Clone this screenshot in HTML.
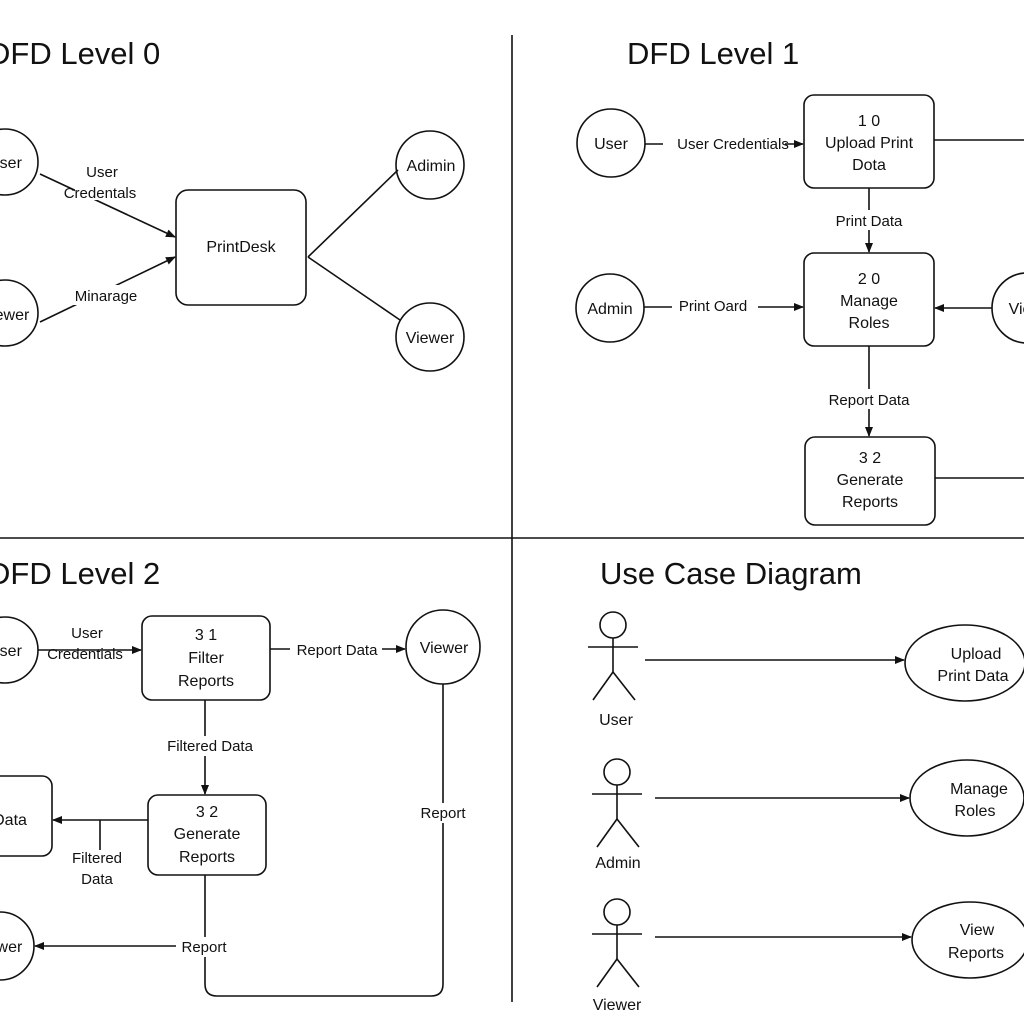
<!DOCTYPE html>
<html><head><meta charset="utf-8"><style>
html,body{margin:0;padding:0;background:#fff;}
svg{display:block;}
text{font-family:"Liberation Sans",sans-serif;fill:#111;}
.t{font-size:31px;}
.s{font-size:16px;text-anchor:middle;}
.l{font-size:15px;text-anchor:middle;}
</style></head><body>
<svg width="1024" height="1024" viewBox="0 0 1024 1024" xmlns="http://www.w3.org/2000/svg">
<defs><marker id="a" markerWidth="10" markerHeight="8" refX="9" refY="4" orient="auto" markerUnits="userSpaceOnUse"><path d="M0,0 L10,4 L0,8 z" fill="#111"/></marker></defs>
<g stroke="#111" stroke-width="1.6" fill="none">
<line x1="512" y1="35" x2="512" y2="1002"/>
<line x1="0" y1="538" x2="1024" y2="538"/>
<circle cx="5" cy="162" r="33"/><circle cx="5" cy="313" r="33"/>
<rect x="176" y="190" width="130" height="115" rx="12"/>
<circle cx="430" cy="165" r="34"/><circle cx="430" cy="337" r="34"/>
<line x1="40" y1="174" x2="175" y2="237" marker-end="url(#a)"/>
<line x1="40" y1="322" x2="175" y2="257" marker-end="url(#a)"/>
<line x1="308" y1="257" x2="398" y2="170"/><line x1="308" y1="257" x2="400" y2="320"/>
<circle cx="611" cy="143" r="34"/>
<line x1="645" y1="144" x2="803" y2="144" marker-end="url(#a)"/>
<rect x="804" y="95" width="130" height="93" rx="10"/>
<line x1="934" y1="140" x2="1024" y2="140"/>
<line x1="869" y1="188" x2="869" y2="252" marker-end="url(#a)"/>
<rect x="804" y="253" width="130" height="93" rx="10"/>
<circle cx="610" cy="308" r="34"/>
<line x1="644" y1="307" x2="803" y2="307" marker-end="url(#a)"/>
<circle cx="1027" cy="308" r="35"/>
<line x1="992" y1="308" x2="935" y2="308" marker-end="url(#a)"/>
<line x1="869" y1="346" x2="869" y2="436" marker-end="url(#a)"/>
<rect x="805" y="437" width="130" height="88" rx="10"/>
<line x1="935" y1="478" x2="1024" y2="478"/>
<circle cx="5" cy="650" r="33"/>
<line x1="38" y1="650" x2="141" y2="650" marker-end="url(#a)"/>
<rect x="142" y="616" width="128" height="84" rx="10"/>
<line x1="270" y1="649" x2="405" y2="649" marker-end="url(#a)"/>
<circle cx="443" cy="647" r="37"/>
<line x1="205" y1="700" x2="205" y2="794" marker-end="url(#a)"/>
<rect x="148" y="795" width="118" height="80" rx="10"/>
<rect x="-12" y="776" width="64" height="80" rx="10"/>
<line x1="148" y1="820" x2="53" y2="820" marker-end="url(#a)"/>
<line x1="100" y1="820" x2="100" y2="850"/>
<circle cx="0" cy="946" r="34"/>
<line x1="205" y1="946" x2="35" y2="946" marker-end="url(#a)"/>
<path d="M205,875 V984 Q205,996 217,996 H431 Q443,996 443,984 V684"/>
<g id="act">
<circle cx="613" cy="625" r="13"/><line x1="613" y1="638" x2="613" y2="672"/>
<line x1="588" y1="647" x2="638" y2="647"/>
<line x1="613" y1="672" x2="593" y2="700"/><line x1="613" y1="672" x2="635" y2="700"/>
</g>
<use href="#act" x="4" y="147"/><use href="#act" x="4" y="287"/>
<line x1="645" y1="660" x2="904" y2="660" marker-end="url(#a)"/>
<line x1="655" y1="798" x2="909" y2="798" marker-end="url(#a)"/>
<line x1="655" y1="937" x2="911" y2="937" marker-end="url(#a)"/>
<ellipse cx="965" cy="663" rx="60" ry="38"/>
<ellipse cx="967" cy="798" rx="57" ry="38"/>
<ellipse cx="970" cy="940" rx="58" ry="38"/>
</g>
<g fill="#fff">
<rect x="75" y="160" width="50" height="40"/><rect x="70" y="285" width="72" height="20"/>
<rect x="663" y="134" width="122" height="20"/><rect x="672" y="296" width="86" height="20"/>
<rect x="830" y="210" width="78" height="20"/><rect x="822" y="389" width="94" height="20"/>
<rect x="290" y="640" width="92" height="20"/><rect x="162" y="736" width="96" height="20"/>
<rect x="176" y="937" width="56" height="20"/><rect x="415" y="803" width="56" height="20"/>
</g>
<text class="t" x="-12" y="64">DFD Level 0</text>
<text class="t" x="627" y="64">DFD Level 1</text>
<text class="t" x="-12" y="584">DFD Level 2</text>
<text class="t" x="600" y="584">Use Case Diagram</text>
<text class="s" x="5" y="168">User</text><text class="s" x="5" y="320">Viewer</text>
<text class="s" x="241" y="252">PrintDesk</text>
<text class="s" x="431" y="171">Adimin</text><text class="s" x="430" y="343">Viewer</text>
<text class="l" x="102" y="177">User</text><text class="l" x="100" y="198">Credentals</text>
<text class="l" x="106" y="301">Minarage</text>
<text class="s" x="611" y="149">User</text>
<text class="l" x="733" y="149">User Credentials</text>
<text class="s" x="869" y="126">1 0</text><text class="s" x="869" y="148">Upload Print</text><text class="s" x="869" y="170">Dota</text>
<text class="l" x="869" y="226">Print Data</text>
<text class="s" x="869" y="284">2 0</text><text class="s" x="869" y="306">Manage</text><text class="s" x="869" y="328">Roles</text>
<text class="s" x="610" y="314">Admin</text><text class="l" x="713" y="311">Print Oard</text>
<text class="s" x="1020" y="314">Vie</text>
<text class="l" x="869" y="405">Report Data</text>
<text class="s" x="870" y="463">3 2</text><text class="s" x="870" y="485">Generate</text><text class="s" x="870" y="507">Reports</text>
<text class="s" x="5" y="656">User</text>
<text class="l" x="87" y="638">User</text><text class="l" x="85" y="659">Credentials</text>
<text class="s" x="206" y="640">3 1</text><text class="s" x="206" y="663">Filter</text><text class="s" x="206" y="686">Reports</text>
<text class="l" x="337" y="655">Report Data</text>
<text class="s" x="444" y="653">Viewer</text>
<text class="l" x="210" y="751">Filtered Data</text>
<text class="s" x="207" y="817">3 2</text><text class="s" x="207" y="839">Generate</text><text class="s" x="207" y="862">Reports</text>
<text class="s" x="10" y="825">Data</text>
<text class="l" x="97" y="863">Filtered</text><text class="l" x="97" y="884">Data</text>
<text class="s" x="-2" y="952">Viewer</text>
<text class="l" x="204" y="952">Report</text><text class="l" x="443" y="818">Report</text>
<text class="s" x="616" y="725">User</text><text class="s" x="618" y="868">Admin</text><text class="s" x="617" y="1010">Viewer</text>
<text class="s" x="976" y="659">Upload</text><text class="s" x="973" y="681">Print Data</text>
<text class="s" x="979" y="794">Manage</text><text class="s" x="975" y="816">Roles</text>
<text class="s" x="977" y="935">View</text><text class="s" x="976" y="958">Reports</text>
</svg>
</body></html>
